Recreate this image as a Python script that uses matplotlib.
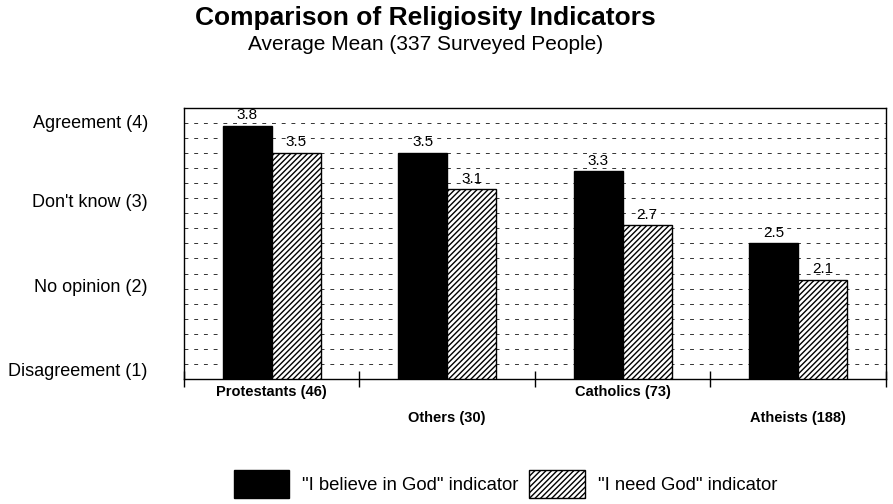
import matplotlib
matplotlib.use("Agg")
import matplotlib.pyplot as plt
import numpy as np
from matplotlib.ticker import FixedLocator

plt.rcParams["font.family"] = ["Liberation Sans", "DejaVu Sans"]
plt.rcParams["hatch.linewidth"] = 1.0

# Данные графика.
groups = ["Protestants (46)", "Others (30)", "Catholics (73)", "Atheists (188)"]
believe = [3.8, 3.5, 3.3, 2.5]
need = [3.5, 3.1, 2.7, 2.1]
y_labels = ["Agreement (4)", "Don't know (3)", "No opinion (2)", "Disagreement (1)"]
y_label_pos = [3.85, 2.98, 2.03, 1.1]

fig = plt.figure(figsize=(8.93, 5.04), dpi=100)
ax = fig.add_axes([0.206, 0.248, 0.786, 0.538])

x = np.arange(len(groups))
w = 0.28
b1 = ax.bar(x + 0.5 - w, np.array(believe) - 1, w, bottom=1, align="edge",
            color="black", edgecolor="black", linewidth=1, zorder=3,
            label='"I believe in God" indicator')
b2 = ax.bar(x + 0.5, np.array(need) - 1, w, bottom=1, align="edge",
            color="white", edgecolor="black", hatch="//////", linewidth=1, zorder=3,
            label='"I need God" indicator')

for bars, vals in ((b1, believe), (b2, need)):
    for r, v in zip(bars, vals):
        ax.text(r.get_x() + r.get_width() / 2, v + 0.04, f"{v:.1f}",
                ha="center", va="bottom", fontsize=11, zorder=4)

ax.set_xlim(0, 4)
ax.set_ylim(1, 4)

# Пунктирная сетка через 1/6.
for gy in np.linspace(1, 4, 19)[1:-1]:
    ax.axhline(gy, color="#333333", lw=0.7, ls=(0, (4, 6)), zorder=1)

ax.set_yticks(y_label_pos)
ax.set_yticklabels(y_labels, fontsize=13)
ax.tick_params(axis="y", length=0, pad=26)

ax.xaxis.set_major_locator(FixedLocator(np.arange(0, 5)))
ax.set_xticklabels([])
ax.tick_params(axis="x", direction="inout", length=12, width=1)

for i, g in enumerate(groups):
    yoff = -0.048 if i % 2 == 0 else -0.144
    ax.text(i + 0.5, yoff, g, transform=ax.get_xaxis_transform(),
            ha="center", va="center", fontsize=10.5, fontweight="bold")

for s in ax.spines.values():
    s.set_linewidth(1)

fig.text(0.476, 0.965, "Comparison of Religiosity Indicators", ha="center",
         va="center", fontsize=19, fontweight="bold")
fig.text(0.477, 0.912, "Average Mean (337 Surveyed People)", ha="center",
         va="center", fontsize=15)

fig.legend(handles=[b1, b2], loc="center", bbox_to_anchor=(0.566, 0.04), ncol=2,
           frameon=False, fontsize=13.3, handlelength=3.0, handleheight=2.0,
           handletextpad=0.7, columnspacing=0.6, borderpad=0)

fig.savefig("out.png", dpi=100)
